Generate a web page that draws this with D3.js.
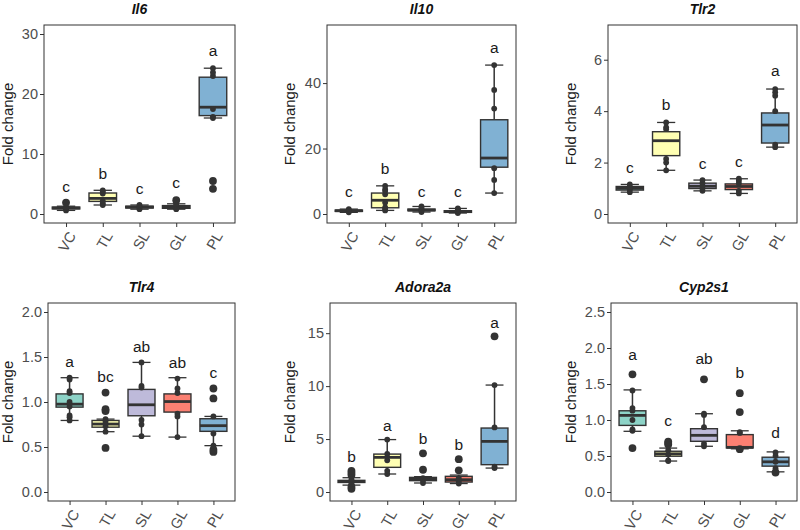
<!DOCTYPE html>
<html>
<head>
<meta charset="utf-8">
<script src="https://cdn.jsdelivr.net/npm/d3@7"></script>
<style>
  body { margin: 0; background: #fff; }
  text { font-family: "Liberation Sans", Arial, sans-serif; }
</style>
</head>
<body>
<div id="chart"></div>
<script>
// groups and colours (Set3)
var groups = ["VC", "TL", "SL", "GL", "PL"];
var groupColors = ["#8DD3C7", "#FFFFB3", "#BEBADA", "#FB8072", "#80B1D3"];
var genes = ["Il6", "Il10", "Tlr2", "Tlr4", "Adora2a", "Cyp2s1"];

// y limits (before 5% expansion) and ticks per gene
var yLimits = [[0, 30], [0, 55], [0, 7], [0, 2], [0, 17], [0, 2.5]];
var yTicks = [
  [0, 10, 20, 30],
  [0, 20, 40],
  [0, 2, 4, 6],
  [0, 0.5, 1, 1.5, 2],
  [0, 5, 10, 15],
  [0, 0.5, 1, 1.5, 2, 2.5]
];
var tickFormats = ["d", "d", "d", ".1f", "d", ".1f"];

// box stats per group: [lower whisker, q1, median, q3, upper whisker]
var il6Box = [[0.6, 0.85, 1.0, 1.15, 1.3], [1.5, 2.1, 2.6, 3.5, 3.95], [0.8, 1.0, 1.15, 1.3, 1.5], [0.8, 0.95, 1.1, 1.4, 1.7], [16.0, 16.4, 17.8, 22.8, 24.3]];
var il10Box = [[0.5, 0.8, 1.0, 1.2, 1.5], [1.1, 1.9, 4.2, 6.4, 8.6], [0.6, 1.0, 1.2, 1.5, 2.3], [0.3, 0.5, 0.8, 1.0, 1.7], [6.4, 14.3, 17.1, 28.8, 45.5]];
var tlr2Box = [[0.85, 0.93, 1.0, 1.07, 1.15], [1.7, 2.27, 2.85, 3.2, 3.56], [0.9, 0.99, 1.08, 1.2, 1.32], [0.8, 0.95, 1.07, 1.17, 1.37], [2.6, 2.76, 3.46, 3.93, 4.86]];
var tlr4Box = [[0.795, 0.943, 0.976, 1.09, 1.27], [0.67, 0.72, 0.755, 0.795, 0.81], [0.62, 0.847, 0.969, 1.14, 1.44], [0.61, 0.888, 1.005, 1.09, 1.27], [0.515, 0.674, 0.737, 0.814, 0.84]];
var adoraBox = [[0.65, 0.9, 1.0, 1.1, 1.35], [1.7, 2.33, 3.27, 3.58, 4.95], [0.85, 1.07, 1.2, 1.38, 1.45], [0.8, 0.94, 1.16, 1.48, 1.6], [2.26, 2.58, 4.78, 6.04, 10.1]];
var cypBox = [[0.843, 0.925, 1.064, 1.128, 1.418], [0.43, 0.497, 0.53, 0.566, 0.61], [0.635, 0.704, 0.787, 0.879, 1.087], [0.60, 0.612, 0.62, 0.797, 0.85], [0.28, 0.359, 0.419, 0.483, 0.557]];

// individual samples per group
var il6Points = [[0.6, 0.9, 1.0, 1.1, 1.9], [1.5, 1.8, 2.2, 3.4, 3.7, 3.95], [0.8, 1.1, 1.3, 1.5], [0.8, 1.0, 1.5, 1.7, 2.3], [4.2, 5.5, 16.0, 16.2, 17.5, 23.0, 23.6, 24.3]];
var il10Points = [[0.5, 0.9, 1.1, 1.5], [1.1, 1.5, 2.0, 3.5, 6.0, 7.0, 7.6, 8.6], [0.6, 1.0, 1.4, 1.8, 2.3], [0.3, 0.6, 1.0, 1.4, 1.7], [6.4, 10.4, 14.0, 32.2, 37.9, 45.5]];
var tlr2Points = [[0.85, 0.95, 1.0, 1.05, 1.15], [1.7, 2.0, 2.14, 3.3, 3.37, 3.56], [0.9, 1.0, 1.2, 1.32], [0.8, 0.9, 1.2, 1.3, 1.37], [2.6, 2.7, 4.0, 4.6, 4.73, 4.86]];
var tlr4Points = [[0.795, 0.83, 0.85, 0.95, 1.0, 1.10, 1.12, 1.25, 1.27], [0.49, 0.67, 0.73, 0.78, 0.81, 0.90, 0.92, 1.105], [0.62, 0.75, 0.80, 1.16, 1.18, 1.44], [0.61, 0.84, 0.87, 1.1, 1.15, 1.26], [0.445, 0.47, 0.515, 0.65, 0.84, 1.04, 1.15]];
var adoraPoints = [[0.3, 0.5, 0.8, 1.0, 1.2, 1.6, 1.8, 2.0], [1.7, 2.0, 3.0, 3.6, 4.95], [0.85, 1.1, 1.3, 2.1, 3.65], [0.8, 1.0, 1.3, 2.05, 3.1], [2.26, 2.4, 6.1, 10.1, 14.7]];
var cypPoints = [[0.61, 0.85, 0.87, 1.0, 1.13, 1.165, 1.41, 1.634], [0.43, 0.44, 0.52, 0.58, 0.66, 0.68, 0.70], [0.635, 0.67, 0.9, 1.07, 1.087, 1.565], [0.595, 0.6, 0.82, 0.83, 1.11, 1.372], [0.27, 0.30, 0.33, 0.42, 0.50, 0.55]];

// significance letters and their baseline heights
var il6Letters = ["c", "b", "c", "c", "a"], il6LetterY = [3.6, 5.9, 3.3, 4.3, 26.3];
var il10Letters = ["c", "b", "c", "c", "a"], il10LetterY = [5.2, 12.2, 5.2, 5.2, 49.2];
var tlr2Letters = ["c", "b", "c", "c", "a"], tlr2LetterY = [1.59, 4.03, 1.76, 1.81, 5.38];
var tlr4Letters = ["a", "bc", "ab", "ab", "c"], tlr4LetterY = [1.385, 1.22, 1.56, 1.38, 1.27];
var adoraLetters = ["b", "a", "b", "b", "a"], adoraLetterY = [2.83, 5.72, 4.56, 3.93, 15.47];
var cypLetters = ["a", "c", "ab", "b", "d"], cypLetterY = [1.83, 0.91, 1.78, 1.58, 0.75];

var boxes = [il6Box, il10Box, tlr2Box, tlr4Box, adoraBox, cypBox];
var points = [il6Points, il10Points, tlr2Points, tlr4Points, adoraPoints, cypPoints];
var letters = [il6Letters, il10Letters, tlr2Letters, tlr4Letters, adoraLetters, cypLetters];
var letterYs = [il6LetterY, il10LetterY, tlr2LetterY, tlr4LetterY, adoraLetterY, cypLetterY];

// panel frames; y titles are aligned per column
var frames = [
  {left: 44, right: 235, top: 25, bottom: 223, titleX: 12.7},
  {left: 327, right: 516, top: 25, bottom: 223, titleX: 294.5},
  {left: 608, right: 797, top: 25, bottom: 223, titleX: 575.5},
  {left: 48, right: 235, top: 303, bottom: 501, titleX: 12.7},
  {left: 330, right: 516, top: 303, bottom: 501, titleX: 294.5},
  {left: 611, right: 797, top: 303, bottom: 501, titleX: 575.5}
];

var width = 800, height = 530;
var ink = "#333333";

var svg = d3.select("#chart").append("svg")
  .attr("width", width)
  .attr("height", height);

genes.forEach(function (gene, gi) {
  var f = frames[gi];
  var lim = yLimits[gi], span = lim[1] - lim[0];

  var y = d3.scaleLinear()
    .domain([lim[0] - 0.05 * span, lim[1] + 0.05 * span])
    .range([f.bottom, f.top]);
  var x = d3.scalePoint()
    .domain(groups)
    .range([f.left, f.right])
    .padding(0.6);

  var g = svg.append("g");
  var boxW = x.step() * 0.75, capW = x.step() * 0.5;

  var rows = groups.map(function (grp, i) {
    return {grp: grp, color: groupColors[i], s: boxes[gi][i], pts: points[gi][i], lab: letters[gi][i], ly: letterYs[gi][i]};
  });

  var bg = g.selectAll(".grp").data(rows).enter().append("g")
    .attr("transform", function (d) { return "translate(" + x(d.grp) + ",0)"; });

  // whiskers + caps
  bg.append("line").attr("y1", function (d) { return y(d.s[0]); }).attr("y2", function (d) { return y(d.s[1]); })
    .attr("stroke", ink).attr("stroke-width", 1.5);
  bg.append("line").attr("y1", function (d) { return y(d.s[3]); }).attr("y2", function (d) { return y(d.s[4]); })
    .attr("stroke", ink).attr("stroke-width", 1.5);
  [0, 4].forEach(function (k) {
    bg.append("line")
      .attr("x1", -capW / 2).attr("x2", capW / 2)
      .attr("y1", function (d) { return y(d.s[k]); }).attr("y2", function (d) { return y(d.s[k]); })
      .attr("stroke", ink).attr("stroke-width", 1.3);
  });
  // box + median
  bg.append("rect")
    .attr("x", -boxW / 2).attr("width", boxW)
    .attr("y", function (d) { return y(d.s[3]); })
    .attr("height", function (d) { return y(d.s[1]) - y(d.s[3]); })
    .attr("fill", function (d) { return d.color; })
    .attr("stroke", ink).attr("stroke-width", 1.4);
  bg.append("line")
    .attr("x1", -boxW / 2).attr("x2", boxW / 2)
    .attr("y1", function (d) { return y(d.s[2]); }).attr("y2", function (d) { return y(d.s[2]); })
    .attr("stroke", ink).attr("stroke-width", 2.8);

  // samples, outliers a bit larger
  bg.selectAll("circle").data(function (d) {
    return d.pts.map(function (v) { return {v: v, out: v < d.s[0] - 1e-6 || v > d.s[4] + 1e-6}; });
  }).enter().append("circle")
    .attr("cx", 0)
    .attr("cy", function (d) { return y(d.v); })
    .attr("r", function (d) { return d.out ? 3.9 : 2.9; })
    .attr("fill", ink);

  bg.append("text")
    .attr("y", function (d) { return y(d.ly); })
    .attr("text-anchor", "middle")
    .attr("font-size", 15.5)
    .attr("fill", "#1a1a1a")
    .text(function (d) { return d.lab; });

  // frame
  g.append("rect")
    .attr("x", f.left).attr("y", f.top)
    .attr("width", f.right - f.left).attr("height", f.bottom - f.top)
    .attr("fill", "none").attr("stroke", ink).attr("stroke-width", 1);

  // axes
  var yAxis = d3.axisLeft(y).tickValues(yTicks[gi]).tickFormat(d3.format(tickFormats[gi])).tickSize(4).tickPadding(2);
  var ya = g.append("g").attr("transform", "translate(" + f.left + ",0)").call(yAxis);
  ya.select(".domain").remove();
  ya.selectAll("line").attr("stroke", ink);
  ya.selectAll("text").attr("font-size", 14.5).attr("fill", "#4d4d4d").attr("font-family", "Liberation Sans, Arial, sans-serif");

  var xAxis = d3.axisBottom(x).tickSize(4).tickFormat("");
  var xa = g.append("g").attr("transform", "translate(0," + f.bottom + ")").call(xAxis);
  xa.select(".domain").remove();
  xa.selectAll("line").attr("stroke", ink);

  g.selectAll(".xlab").data(groups).enter().append("text")
    .attr("transform", function (d) { return "translate(" + (x(d) + 1) + "," + (f.bottom + 7) + ") rotate(-60)"; })
    .attr("dy", "0.75em")
    .attr("text-anchor", "end")
    .attr("font-size", 14.5)
    .attr("fill", "#4d4d4d")
    .text(function (d) { return d; });

  // y title
  g.append("text")
    .attr("transform", "translate(" + f.titleX + "," + ((f.top + f.bottom) / 2) + ") rotate(-90)")
    .attr("text-anchor", "middle")
    .attr("font-size", 15)
    .attr("fill", "#1a1a1a")
    .text("Fold change");

  // panel title
  g.append("text")
    .attr("x", (f.left + f.right) / 2)
    .attr("y", f.top - 11)
    .attr("text-anchor", "middle")
    .attr("font-size", 14)
    .attr("font-weight", "bold")
    .attr("font-style", "italic")
    .attr("fill", "#111")
    .text(gene);
});
</script>
</body>
</html>
